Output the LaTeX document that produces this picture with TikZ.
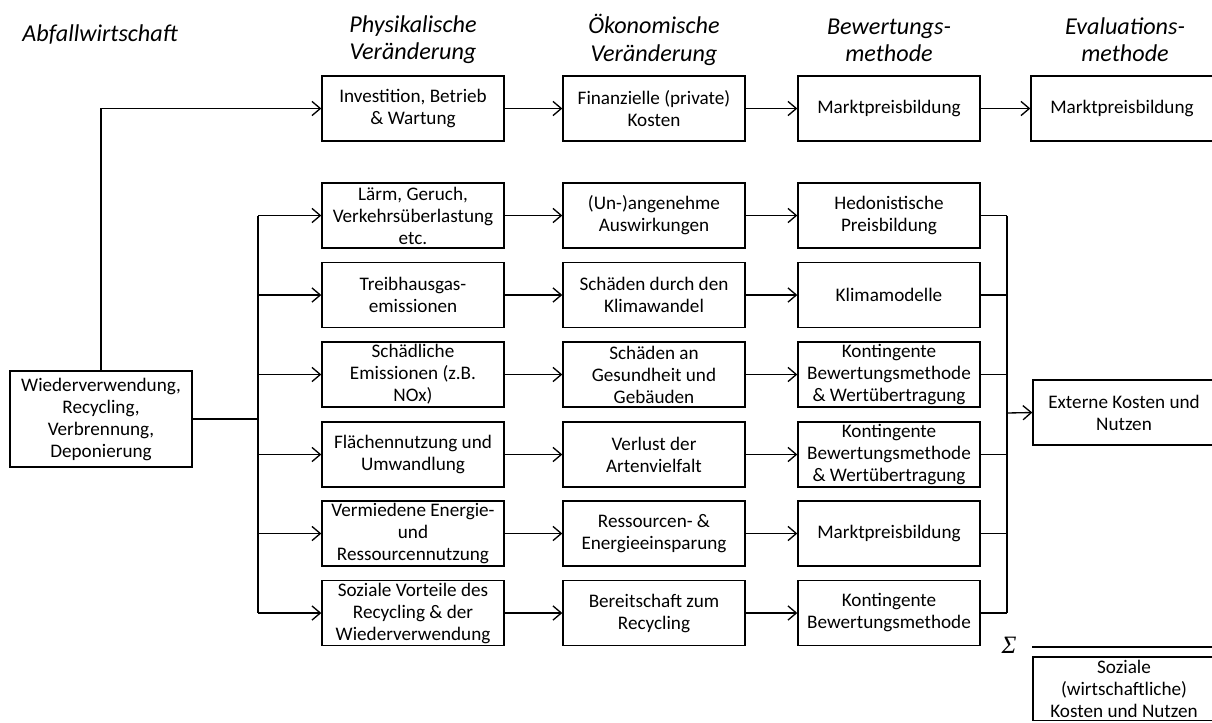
\documentclass[tikz,border=0pt]{standalone}
\usepackage{fontspec}
\setmainfont{Carlito}
\newfontfamily\sumfont{Liberation Serif}
\usetikzlibrary{arrows.meta}
\tikzset{
  box/.style={draw, line width=0.8pt, align=center, minimum width=109.2pt,
    minimum height=39pt, inner sep=0.5pt, font=\fontsize{11.5}{13.2}\selectfont},
  head/.style={align=center, font=\fontsize{14.5}{16.4}\selectfont\itshape},
  conn/.style={line width=0.8pt},
  thickconn/.style={line width=1.5pt},
  >={Straight Barb[length=5pt,width=8.5pt]}
}

\begin{document}
\begin{tikzpicture}[x=0.6pt, y=-0.6pt]
  \useasboundingbox (0,0) rectangle (1212,722);
  % headings
  \node[head] (hwaste) at (100,35) {Abfallwirtschaft};
  \node[head] (hphys) at (413,40) {Physikalische\\Veränderung};
  \node[head] (hecon) at (654,40) {Ökonomische\\Veränderung};
  \node[head] (hval) at (889,40) {Bewertungs-\\methode};
  \node[head] (heval) at (1125,40) {Evaluations-\\methode};
  % source
  \node[box, minimum height=57.6pt] (waste) at (101,419)
    {Wiederverwendung,\\Recycling,\\Verbrennung,\\Deponierung};
  % private costs
  \node[box] (invest) at (413,108.5) {Investition, Betrieb\\\& Wartung};
  \node[box] (fincost) at (654,108.5) {Finanzielle (private)\\Kosten};
  \node[box] (market) at (889,108.5) {Marktpreisbildung};
  \node[box] (evmarket) at (1122,108.5) {Marktpreisbildung};
  % physical change
  \node[box] (noise) at (413,215.5) {Lärm, Geruch,\\Verkehrsüberlastung\\etc.};
  \node[box] (ghg) at (413,295) {Treibhausgas-\\emissionen};
  \node[box] (harm) at (413,374.5) {Schädliche\\Emissionen (z.B.\\NOx)};
  \node[box] (land) at (413,454.5) {Flächennutzung und\\Umwandlung};
  \node[box] (avoid) at (413,533.5) {Vermiedene Energie-\\und\\Ressourcennutzung};
  \node[box] (social) at (413,613) {Soziale Vorteile des\\Recycling \& der\\Wiederverwendung};
  % economic change
  \node[box] (amen) at (654,215.5) {(Un-)angenehme\\Auswirkungen};
  \node[box] (climdmg) at (654,295) {Schäden durch den\\Klimawandel};
  \node[box] (health) at (654,374.5) {Schäden an\\Gesundheit und\\Gebäuden};
  \node[box] (biodiv) at (654,454.5) {Verlust der\\Artenvielfalt};
  \node[box] (saving) at (654,533.5) {Ressourcen- \&\\Energieeinsparung};
  \node[box] (willing) at (654,613) {Bereitschaft zum\\Recycling};
  % valuation
  \node[box] (hedon) at (889,215.5) {Hedonistische\\Preisbildung};
  \node[box] (climmod) at (889,295) {Klimamodelle};
  \node[box] (cont1) at (889,374.5) {Kontingente\\Bewertungsmethode\\\& Wertübertragung};
  \node[box] (cont2) at (889,454.5) {Kontingente\\Bewertungsmethode\\\& Wertübertragung};
  \node[box] (market2) at (889,533.5) {Marktpreisbildung};
  \node[box] (cont3) at (889,613) {Kontingente\\Bewertungsmethode};
  % results
  \node[box] (extern) at (1124,412.5) {Externe Kosten und\\Nutzen};
  \node[box, minimum height=38pt] (total) at (1124,688.5)
    {Soziale\\(wirtschaftliche)\\Kosten und Nutzen};
  \node[font=\fontsize{15}{17}\selectfont\sumfont\itshape] (sum) at (1009,645) {Σ};
  \coordinate (sumend) at (1215,647);
  \coordinate (lbus) at (258,419);
  \coordinate (rbus) at (1007,413);

  % private branch
  \draw[conn,->] (waste.north) |- (invest.west);
  \draw[conn,->] (invest) -- (fincost);
  \draw[conn,->] (fincost) -- (market);
  \draw[conn,->] (market) -- (evmarket);
  % external branch
  \draw[thickconn] (waste.east) -- (lbus);
  \draw[conn] (lbus |- noise.west) -- (lbus |- social.west);
  \foreach \p/\e/\v in {noise/amen/hedon, ghg/climdmg/climmod, harm/health/cont1,
      land/biodiv/cont2, avoid/saving/market2, social/willing/cont3} {
    \draw[conn,->] (lbus |- \p.west) -- (\p.west);
    \draw[conn,->] (\p) -- (\e);
    \draw[conn,->] (\e) -- (\v);
    \draw[conn] (\v.east) -- (rbus |- \v.east);
  }
  \draw[conn] (rbus |- hedon.east) -- (rbus |- cont3.east);
  \draw[conn,->] (rbus) -- (extern.west);
  % sum
  \draw[line width=1.6pt] (total.west |- sumend) -- (sumend);
\end{tikzpicture}
\end{document}
